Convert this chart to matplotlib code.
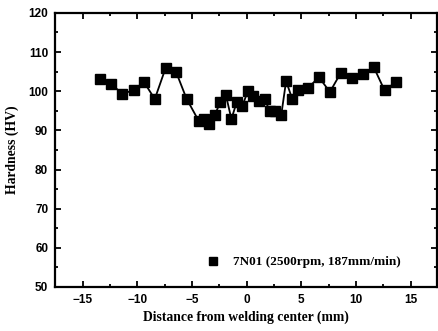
import matplotlib
matplotlib.use("Agg")
import matplotlib.pyplot as plt
from matplotlib.ticker import MultipleLocator
from matplotlib.lines import Line2D

# hardness profile across the weld
distance = [-13.4, -12.4, -11.4, -10.3, -9.4, -8.4, -7.4, -6.45, -5.5, -4.4,
            -3.9, -3.4, -2.9, -2.4, -1.9, -1.4, -0.9, -0.4, 0.1, 0.6,
            1.1, 1.65, 2.1, 2.6, 3.15, 3.6, 4.15, 4.7, 5.6, 6.6,
            7.6, 8.6, 9.6, 10.6, 11.6, 12.6, 13.6]
hardness = [103.2, 101.9, 99.4, 100.2, 102.4, 98.0, 106.0, 104.9, 98.1, 92.5,
            93.0, 91.6, 94.0, 97.3, 99.0, 92.9, 97.3, 96.2, 100.0, 98.9,
            97.4, 97.9, 95.0, 94.9, 93.8, 102.6, 98.1, 100.2, 100.8, 103.6,
            99.8, 104.7, 103.4, 104.4, 106.2, 100.2, 102.3]
series_label = "7N01 (2500rpm, 187mm/min)"

serif = ["Liberation Serif", "DejaVu Serif"]
sans = ["Liberation Sans", "DejaVu Sans"]

fig = plt.figure(figsize=(4.38, 3.31), dpi=100)
ax = fig.add_axes([0.126, 0.133, 0.872, 0.828])

ax.plot(distance, hardness, color="black", lw=1.3, marker="s", ms=7,
        mfc="black", mec="black")

ax.set_xlim(-17.5, 17.4)
ax.set_ylim(50, 120)
ax.xaxis.set_major_locator(MultipleLocator(5))
ax.xaxis.set_minor_locator(MultipleLocator(2.5))
ax.yaxis.set_major_locator(MultipleLocator(10))
ax.yaxis.set_minor_locator(MultipleLocator(5))
ax.tick_params(which="both", direction="in", top=True, right=True, width=1.3)
ax.tick_params(which="major", length=4, labelsize=8.5, pad=5)
ax.tick_params(which="minor", length=2)
for lab in ax.get_xticklabels() + ax.get_yticklabels():
    lab.set_family(sans)
    lab.set_fontweight("bold")
for s in ax.spines.values():
    s.set_linewidth(1.6)

ax.set_xlabel("Distance from welding center (mm)", family=serif,
              fontweight="bold", fontsize=9.8, labelpad=3)
ax.set_ylabel("Hardness (HV)", family=serif, fontweight="bold",
              fontsize=9.8, labelpad=7)

handle = Line2D([], [], ls="none", marker="s", ms=6, color="black")
ax.legend([handle], [series_label], loc="lower right", frameon=False,
          handlelength=1.0, handletextpad=1.0, bbox_to_anchor=(0.935, 0.025),
          prop={"family": serif, "weight": "bold", "size": 9.5})

fig.savefig("out.png", dpi=100)
